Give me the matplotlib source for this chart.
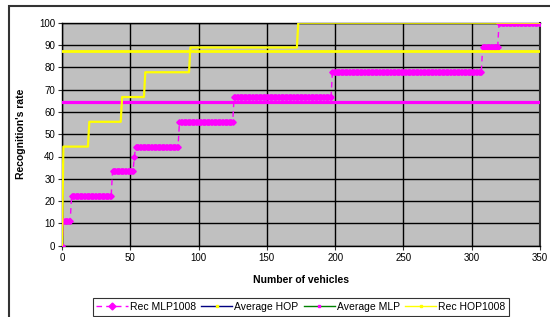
import numpy as np
import matplotlib
matplotlib.use('Agg')
import matplotlib.pyplot as plt
from matplotlib.lines import Line2D
from matplotlib.patches import Rectangle

plt.rcParams['font.family'] = ['Liberation Sans', 'DejaVu Sans']

# Niveaux de reconnaissance (%) et nombre de vehicules sur chaque palier
mlp_levels = [0, 11.11, 22.22, 33.33, 40.0, 44.44, 55.56, 66.67, 77.78, 88.89, 100]
mlp_runs = [1, 6, 30, 16, 1, 32, 40, 72, 110, 12, 31]

hop_levels = [0, 44.44, 55.56, 66.67, 77.78, 88.89, 100]
hop_runs = [1, 19, 24, 17, 33, 79, 178]

avg_hop = 87.4
avg_mlp = 64.4

x_ticks = [0, 50, 100, 150, 200, 250, 300, 350]
y_ticks = [0, 10, 20, 30, 40, 50, 60, 70, 80, 90, 100]

mlp = np.repeat(mlp_levels, mlp_runs)
hop = np.repeat(hop_levels, hop_runs)
x_mlp = np.arange(len(mlp))
x_hop = np.arange(len(hop))

fig = plt.figure(figsize=(5.5, 3.17), dpi=100)
ax = fig.add_axes([62 / 550, 1 - 245.7 / 317, 478 / 550, 223 / 317])
ax.set_facecolor('#C0C0C0')

# Series
ax.plot(x_mlp, mlp, color='#FF00FF', ls=(0, (4, 3)), lw=1,
        marker='D', ms=2.8, mew=1, mec='#FF00FF', mfc='#FF00FF', zorder=3)
ax.plot([0, 350], [avg_hop, avg_hop], color='#FFFF00', lw=2, zorder=3)
ax.plot([0, 350], [avg_mlp, avg_mlp], color='#FF00FF', lw=2.3, zorder=3)
ax.plot(x_hop, hop, color='#FFFF00', lw=1.6, zorder=4)

ax.set_xlim(0, 350)
ax.set_ylim(0, 100)
ax.set_xticks(x_ticks)
ax.set_yticks(y_ticks)
ax.grid(True, color='black', lw=1)
ax.set_axisbelow(True)
ax.tick_params(axis='both', labelsize=7, length=3, direction='out', color='#333333', pad=2)
for s in ax.spines.values():
    s.set_color('black')
    s.set_linewidth(1)
ax.spines['right'].set_color('#333333')
ax.spines['right'].set_linewidth(1.5)

ax.set_xlabel('Number of vehicles', fontsize=7.5, fontweight='bold', labelpad=9)
ax.set_ylabel("Recognition's rate", fontsize=7.5, fontweight='bold', labelpad=9)

# Legende
handles = [
    Line2D([], [], color='#FF00FF', ls=(0, (4, 3)), lw=1, marker='D', ms=3.5),
    Line2D([], [], color='#000080', lw=1, marker='s', ms=2, mfc='#FFFF00', mec='#FFFF00'),
    Line2D([], [], color='#008000', lw=1, marker='s', ms=2, mfc='#FF00FF', mec='#FF00FF'),
    Line2D([], [], color='#FFFF00', lw=1, marker='s', ms=1.5),
]
labels = ['Rec MLP1008', 'Average HOP', 'Average MLP', 'Rec HOP1008']
leg = fig.legend(handles, labels, loc='lower center', bbox_to_anchor=(301 / 550, 1.5 / 317),
                 ncol=4, fontsize=7.5, frameon=True, fancybox=False, edgecolor='black',
                 handlelength=3.0, handletextpad=0.2, columnspacing=0.5,
                 borderpad=0.35, borderaxespad=0)
leg.get_frame().set_linewidth(0.8)

# Cadre exterieur
top = 1 - 6 / 317
fig.patches.append(Rectangle((9 / 550, -0.1), 1.2, top + 0.1,
                             transform=fig.transFigure, fill=False,
                             edgecolor='#333333', lw=1.5))

plt.savefig('out.png', dpi=100)
